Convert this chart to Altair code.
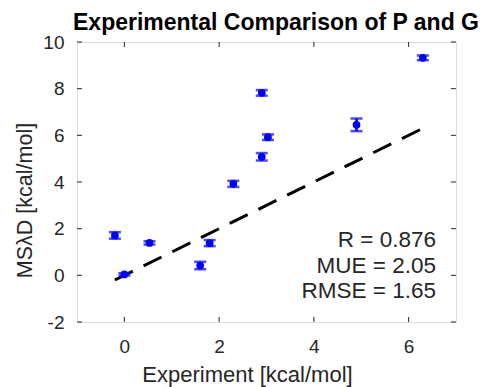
import altair as alt
import pandas as pd

# ---- data ----
exp_x = [-0.2, 0.0, 0.53, 1.6, 1.8, 2.3, 2.9, 2.9, 3.03, 4.9, 6.3]
msld_y = [1.71, 0.04, 1.39, 0.42, 1.38, 3.92, 7.82, 5.08, 5.92, 6.45, 9.32]
err = [0.14, 0.05, 0.07, 0.16, 0.13, 0.13, 0.12, 0.16, 0.12, 0.27, 0.10]
x_ticks = [0, 2, 4, 6]
y_ticks = [-2, 0, 2, 4, 6, 8, 10]
stats_lines = ["R = 0.876", "MUE = 2.05", "RMSE = 1.65"]
title_text = "Experimental Comparison of P and G"
x_title = "Experiment [kcal/mol]"
y_title = "MSλD [kcal/mol]"

W, H = 379, 280
FONT = "Liberation Sans"
AX = "#262626"
BLUE = "#0000ff"

df = pd.DataFrame({"x": exp_x, "y": msld_y, "e": err})
df["lo"] = df["y"] - df["e"]
df["hi"] = df["y"] + df["e"]

line_df = pd.DataFrame({"x": [min(exp_x), max(exp_x)], "y": [min(exp_x), max(exp_x)]})
xt_df = pd.DataFrame({"t": x_ticks})
yt_df = pd.DataFrame({"t": y_ticks})
one = pd.DataFrame({"a": [0]})

xscale = alt.Scale(domain=[-1, 7], nice=False, zero=False)
yscale = alt.Scale(domain=[-2, 10], nice=False, zero=False)

xaxis = alt.Axis(values=x_ticks, grid=False, ticks=False, tickSize=0, domain=False,
                 labelFontSize=19, labelFont=FONT, labelColor=AX, labelPadding=15,
                 labelExpr="'' + datum.value",
                 title=x_title, titleFont=FONT, titleFontSize=22, titleFontWeight="normal",
                 titleColor=AX, titleBaseline="alphabetic", titleX=170, titleY=59,
                 titleAlign="center")
yaxis = alt.Axis(values=y_ticks, grid=False, ticks=False, tickSize=0, domain=False,
                 labelFontSize=19, labelFont=FONT, labelColor=AX, labelPadding=13,
                 labelExpr="'' + datum.value",
                 title=y_title, titleFont=FONT, titleFontSize=21.5, titleFontWeight="normal",
                 titleColor=AX, titleBaseline="alphabetic", titleAngle=270,
                 titleX=-46, titleY=158, titleAlign="center")

base = alt.Chart(df)

ident = alt.Chart(line_df).mark_line(color="black", strokeWidth=3, strokeDash=[20, 12]).encode(
    x=alt.X("x:Q", scale=xscale, axis=xaxis),
    y=alt.Y("y:Q", scale=yscale, axis=yaxis),
)

bars = base.mark_rule(color=BLUE, strokeWidth=2.5).encode(
    x=alt.X("x:Q", scale=xscale), y=alt.Y("lo:Q", scale=yscale), y2="hi:Q"
)
cap_lo = base.mark_tick(color=BLUE, orient="horizontal", size=12, thickness=2.5).encode(
    x=alt.X("x:Q", scale=xscale), y=alt.Y("lo:Q", scale=yscale)
)
cap_hi = base.mark_tick(color=BLUE, orient="horizontal", size=12, thickness=2.5).encode(
    x=alt.X("x:Q", scale=xscale), y=alt.Y("hi:Q", scale=yscale)
)
pts = base.mark_circle(color=BLUE, size=60, opacity=1).encode(
    x=alt.X("x:Q", scale=xscale), y=alt.Y("y:Q", scale=yscale)
)

tick_style = dict(color=AX, strokeWidth=1)
t_top = alt.Chart(xt_df).mark_rule(**tick_style).encode(
    x=alt.X("t:Q", scale=xscale), y=alt.value(0), y2=alt.value(5))
t_bot = alt.Chart(xt_df).mark_rule(**tick_style).encode(
    x=alt.X("t:Q", scale=xscale), y=alt.value(H), y2=alt.value(H - 5))
t_left = alt.Chart(yt_df).mark_rule(**tick_style).encode(
    y=alt.Y("t:Q", scale=yscale), x=alt.value(0), x2=alt.value(5))
t_right = alt.Chart(yt_df).mark_rule(**tick_style).encode(
    y=alt.Y("t:Q", scale=yscale), x=alt.value(W), x2=alt.value(W - 5))

stats = alt.Chart(one).mark_text(
    text=stats_lines, align="right", baseline="alphabetic", font=FONT,
    fontSize=22.5, color=AX, lineHeight=25.5
).encode(x=alt.value(359), y=alt.value(205))

title = alt.Chart(one).mark_text(
    text=title_text, align="center", baseline="alphabetic", font=FONT,
    fontSize=23, fontWeight="bold", color="black"
).encode(x=alt.value(199), y=alt.value(-12))

chart = alt.layer(ident, bars, cap_lo, cap_hi, pts, t_top, t_bot, t_left, t_right,
                  stats, title).properties(
    width=W, height=H,
    autosize=alt.AutoSizeParams(type="none"),
    padding={"left": 77, "top": 42, "right": 29, "bottom": 65},
).configure_view(stroke=AX, strokeWidth=1).configure(background="white")

chart.save("out.html", embed_options={"renderer": "svg", "actions": False})
